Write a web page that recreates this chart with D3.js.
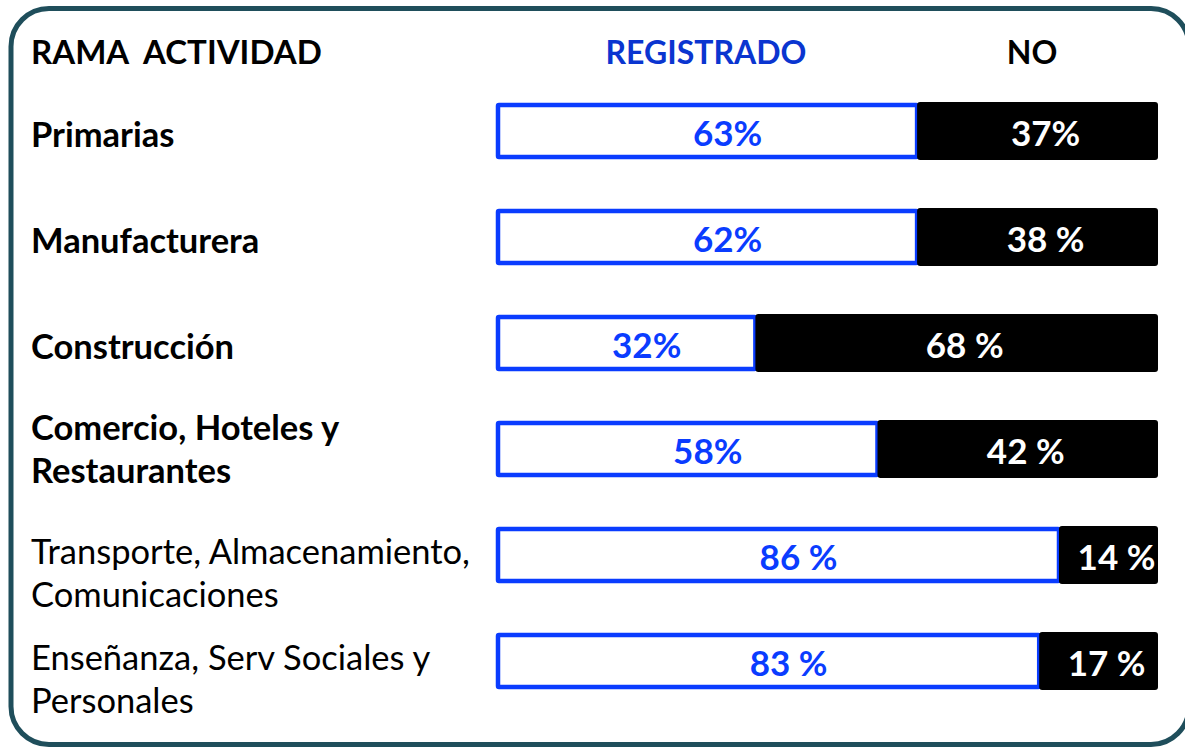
<!DOCTYPE html>
<html>
<head>
<meta charset="utf-8">
<script src="https://cdn.jsdelivr.net/npm/d3@7"></script>
<style>
  body { margin: 0; background: #fff; }
  text { font-family: Lato, "Open Sans", sans-serif; white-space: pre; }
</style>
</head>
<body>
<svg id="chart" width="1185" height="748"></svg>
<script>
// rama de actividad, una fila por barra
const ramas = [
    ["Primarias"],
    ["Manufacturera"],
    ["Construcción"],
    ["Comercio, Hoteles y", "Restaurantes"],
    ["Transporte, Almacenamiento,", "Comunicaciones"],
    ["Enseñanza, Serv Sociales y", "Personales"]
];
// parte registrada de cada barra, tal como aparece dibujada (%)
const registrado = [63.5, 63.5, 39, 57.5, 85, 82];
// textos que lleva cada tramo
const etiquetaReg = ["63%", "62%", "32%", "58%", "86 %", "83 %"];
const etiquetaNo = ["37%", "38 %", "68 %", "42 %", "14 %", "17 %"];
const encabezados = ["RAMA  ACTIVIDAD", "REGISTRADO", "NO"];

const width = 1185, height = 748;
const svg = d3.select("#chart");

// marco redondeado
svg.append("rect")
    .attr("x", 11).attr("y", 8.5)
    .attr("width", 1178).attr("height", 736)
    .attr("rx", 38).attr("ry", 38)
    .attr("fill", "#fff")
    .attr("stroke", "#1f4e5b")
    .attr("stroke-width", 5);

const x = d3.scaleLinear().domain([0, 100]).range([498, 1158]);
const y = d3.scaleBand().domain(d3.range(ramas.length)).range([78, 714]);
const barH = 52;

const rows = svg.selectAll("g.row")
    .data(ramas.map((r, i) => ({ r, i, reg: registrado[i] })))
    .enter().append("g")
    .attr("class", "row")
    .attr("transform", d => `translate(0,${y(d.i) + y.bandwidth() / 2})`);

// tramo registrado (contorno azul)
rows.append("rect")
    .attr("x", x(0))
    .attr("y", -barH / 2)
    .attr("width", d => x(d.reg) - x(0))
    .attr("height", barH)
    .attr("fill", "#fff")
    .attr("stroke", "#0a3cff")
    .attr("stroke-width", 4.5)
    .attr("rx", 1);

// tramo no registrado (negro)
rows.append("rect")
    .attr("x", d => x(d.reg))
    .attr("y", -barH / 2 - 3)
    .attr("width", d => x(100) - x(d.reg))
    .attr("height", barH + 6)
    .attr("fill", "#000")
    .attr("rx", 3);

rows.append("text")
    .attr("x", d => (x(0) + x(d.reg)) / 2 + 20)
    .attr("y", 2)
    .attr("dy", "0.36em")
    .attr("text-anchor", "middle")
    .attr("font-size", 35)
    .attr("font-weight", "bold")
    .attr("fill", "#0a3cff")
    .text(d => etiquetaReg[d.i]);

rows.append("text")
    .attr("x", d => (x(d.reg) + x(100)) / 2 + 8)
    .attr("y", 2)
    .attr("dy", "0.36em")
    .attr("text-anchor", "middle")
    .attr("font-size", 35)
    .attr("font-weight", "bold")
    .attr("fill", "#fff")
    .text(d => etiquetaNo[d.i]);

// nombres de rama
const lineH = 43;
rows.append("text")
    .attr("font-size", 34.5)
    .attr("font-weight", d => d.i < 4 ? "bold" : "normal")
    .attr("fill", "#000")
    .selectAll("tspan")
    .data(d => d.r.map((t, k) => ({ t, k, n: d.r.length, i: d.i })))
    .enter().append("tspan")
    .attr("x", 31)
    .attr("y", d => {
        const start = d.i < 4 ? -(d.n - 1) * lineH / 2 : -3;
        return start + d.k * lineH + (d.i < 4 && d.n === 1 ? 4 : 0);
    })
    .attr("dy", "0.36em")
    .text(d => d.t);

// encabezados
svg.append("text")
    .attr("x", 31).attr("y", 52).attr("dy", "0.36em")
    .attr("font-size", 33).attr("font-weight", "bold")
    .text(encabezados[0]);
svg.append("text")
    .attr("x", 706).attr("y", 52).attr("dy", "0.36em")
    .attr("text-anchor", "middle")
    .attr("font-size", 32).attr("font-weight", "bold")
    .attr("fill", "#0a35d0")
    .text(encabezados[1]);
svg.append("text")
    .attr("x", 1032).attr("y", 52).attr("dy", "0.36em")
    .attr("text-anchor", "middle")
    .attr("font-size", 32).attr("font-weight", "bold")
    .text(encabezados[2]);
</script>
</body>
</html>
